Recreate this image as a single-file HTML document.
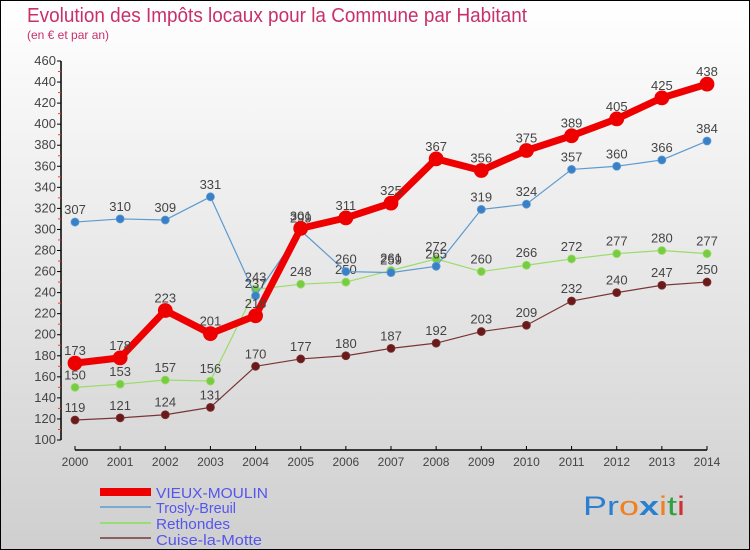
<!DOCTYPE html>
<html><head><meta charset="utf-8"><style>
body{margin:0}
#c{width:750px;height:550px;position:relative;background:linear-gradient(#ffffff,#cfcfcf);box-sizing:border-box;border:1px solid #000;overflow:hidden;font-family:"Liberation Sans",sans-serif}
svg text{font-family:"Liberation Sans",sans-serif}
</style></head><body>
<div id="c">
<svg id="s" width="750" height="550" style="position:absolute;left:-1px;top:-1px">
<text x="27" y="22" font-size="20" fill="#c8306a" textLength="500" lengthAdjust="spacingAndGlyphs">Evolution des Impôts locaux pour la Commune par Habitant</text>
<text x="27" y="39" font-size="12" fill="#c8306a">(en € et par an)</text>
<g id="axes"></g><g id="series"></g>
<g font-size="15" fill="#5555ee">
<rect x="100" y="488" width="51" height="8" fill="#ee0000"/>
<text x="156" y="498" textLength="112" lengthAdjust="spacingAndGlyphs">VIEUX-MOULIN</text>
<rect x="100" y="506" width="51" height="2" fill="#7aaad0"/>
<text x="156" y="513" textLength="80" lengthAdjust="spacingAndGlyphs">Trosly-Breuil</text>
<rect x="100" y="522" width="51" height="2" fill="#99dd77"/>
<text x="156" y="529" textLength="74" lengthAdjust="spacingAndGlyphs">Rethondes</text>
<rect x="100" y="537" width="51" height="2" fill="#8b6060"/>
<text x="156" y="545" textLength="106" lengthAdjust="spacingAndGlyphs">Cuise-la-Motte</text>
</g>
<text x="583" y="515" font-size="27" textLength="102" lengthAdjust="spacingAndGlyphs"><tspan fill="#2a7fd0">Pr</tspan><tspan fill="#f08020">o</tspan><tspan fill="#2a7fd0" font-weight="bold">x</tspan><tspan fill="#f08020">i</tspan><tspan fill="#30a040">t</tspan><tspan fill="#d03030">i</tspan></text>
</svg>
</div>
<script>
const years=[2000,2001,2002,2003,2004,2005,2006,2007,2008,2009,2010,2011,2012,2013,2014];
const vieux=[173,178,223,201,218,301,311,325,367,356,375,389,405,425,438];
const trosly=[307,310,309,331,237,299,260,259,265,319,324,357,360,366,384];
const rethondes=[150,153,157,156,243,248,250,261,272,260,266,272,277,280,277];
const cuise=[119,121,124,131,170,177,180,187,192,203,209,232,240,247,250];
const yTicks=[100,120,140,160,180,200,220,240,260,280,300,320,340,360,380,400,420,440,460];
const NS='http://www.w3.org/2000/svg';
const X=i=>75+i*(707-75)/(years.length-1);
const Y=v=>440-(v-100)*(379/360);
function mk(t,a,p){const e=document.createElementNS(NS,t);for(const k in a)e.setAttribute(k,a[k]);p.appendChild(e);return e;}
const ax=document.getElementById('axes');
const yl=mk('line',{x1:61,y1:Y(460),x2:61,y2:Y(100),stroke:'#000','stroke-width':1.5},ax);


yTicks.forEach(v=>{
 mk('line',{x1:57,y1:Y(v),x2:61,y2:Y(v),stroke:'#000'},ax);
 if(v<460)mk('line',{x1:58,y1:Y(v+10),x2:61,y2:Y(v+10),stroke:'#f33'},ax);
 const t=mk('text',{x:56,y:Y(v)+4,'font-size':13,fill:'#444','text-anchor':'end'},ax);t.textContent=v;
 
 
});
const xl=mk('line',{x1:X(0),y1:450,x2:X(14),y2:450,stroke:'#000','stroke-width':1.5},ax);


years.forEach((y,i)=>{
 mk('line',{x1:X(i),y1:446,x2:X(i),y2:450,stroke:'#000'},ax);
 const t=mk('text',{x:X(i),y:466,'font-size':12,fill:'#444','text-anchor':'middle'},ax);t.textContent=y;
 
 
});
const sg=document.getElementById('series');
function draw(name,vals,col,dot,w,r){
 const g=mk('g',{},sg);
 
 
 mk('polyline',{points:vals.map((v,i)=>X(i)+','+Y(v)).join(' '),fill:'none',stroke:col,'stroke-width':w,'stroke-linejoin':'round'},g);
 vals.forEach((v,i)=>{
  const c=mk('circle',{cx:X(i),cy:Y(v),r:r,fill:dot,stroke:col,'stroke-width':0.8},g);
  
  
  const t=mk('text',{x:X(i),y:Y(v)-8,'font-size':13,fill:'#444','text-anchor':'middle'},g);t.textContent=v;
  
  
 });
}
draw('cuise-la-motte',cuise,'#7a3535','#6a1a1a',1.2,4);
draw('rethondes',rethondes,'#99dd66','#77cc44',1.2,4);
draw('trosly-breuil',trosly,'#5c9ad0','#3a80c8',1.2,4);
draw('vieux-moulin',vieux,'#ee0000','#ee0000',7,7);
</script>
</body></html>
